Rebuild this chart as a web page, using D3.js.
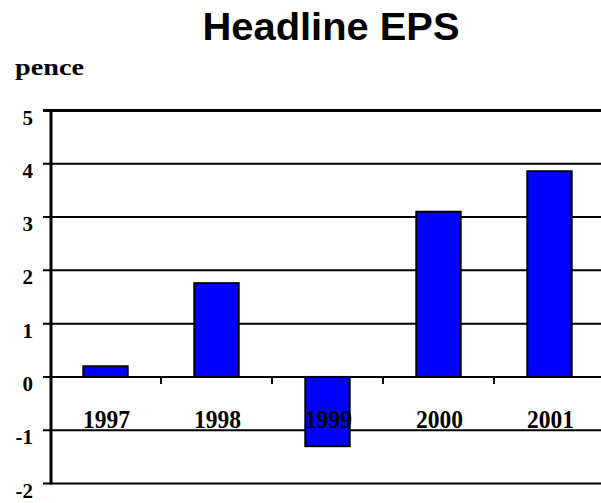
<!DOCTYPE html>
<html><head><meta charset="utf-8">
<script src="https://cdn.jsdelivr.net/npm/d3@7/dist/d3.min.js"></script>
<style>body{margin:0;background:#fff}svg{display:block}</style>
</head><body>
<svg id="c" width="601" height="503"></svg>
<script>
const categories = ["1997","1998","1999","2000","2001"];
const values = [0.2, 1.76, -1.3, 3.1, 3.86];
const yTicks = [-2,-1,0,1,2,3,4,5];

const svg = d3.select("#c");
const x = d3.scaleBand().domain(categories).range([50,605]).padding(0);
const y = d3.scaleLinear().domain([-2,5]).range([483.5,110.5]);
const serif = "'Liberation Serif','Times New Roman',serif";

// title
svg.append("text").attr("x",331).attr("y",40).attr("text-anchor","middle")
  .attr("font-family","'Liberation Sans',Arial,sans-serif").attr("font-weight","bold")
  .attr("font-size",38).attr("textLength",257).attr("lengthAdjust","spacingAndGlyphs").text("Headline EPS");
svg.append("text").attr("x",15).attr("y",74.5).attr("font-family",serif).attr("font-weight","bold")
  .attr("font-size",23).attr("textLength",69).attr("lengthAdjust","spacingAndGlyphs").text("pence");

// gridlines
svg.append("g").selectAll("line").data(yTicks).join("line")
  .attr("x1",43).attr("x2",601).attr("y1",d=>y(d)).attr("y2",d=>y(d))
  .attr("stroke","#000").attr("stroke-width",d=>d===5?3:2);

// y tick labels
svg.append("g").selectAll("text").data(yTicks).join("text")
  .attr("x",33).attr("y",d=>y(d)+14).attr("text-anchor","end")
  .attr("font-family",serif).attr("font-weight","bold").attr("font-size",21).text(d=>d);

// bars
const bw = x.bandwidth()*0.4;
svg.append("g").selectAll("rect").data(categories).join("rect")
  .attr("x",(d)=>x(d)+x.bandwidth()/2-bw/2)
  .attr("y",(d,i)=>y(Math.max(0,values[i])))
  .attr("width",bw)
  .attr("height",(d,i)=>Math.abs(y(values[i])-y(0)))
  .attr("fill","#0000FF").attr("stroke","#000").attr("stroke-width",2);

// category ticks
svg.append("g").selectAll("line").data(categories.slice(1)).join("line")
  .attr("x1",d=>x(d)).attr("x2",d=>x(d)).attr("y1",y(0)).attr("y2",y(0)+7)
  .attr("stroke","#000").attr("stroke-width",2);

// category labels
svg.append("g").selectAll("text").data(categories).join("text")
  .attr("x",d=>x(d)+x.bandwidth()/2+1).attr("y",428).attr("text-anchor","middle")
  .attr("font-family",serif).attr("font-weight","bold").attr("font-size",24.5)
  .attr("textLength",47).attr("lengthAdjust","spacingAndGlyphs").text(d=>d);

// y axis
svg.append("line").attr("x1",51).attr("x2",51).attr("y1",109).attr("y2",484.5)
  .attr("stroke","#000").attr("stroke-width",3);
</script>
</body></html>
